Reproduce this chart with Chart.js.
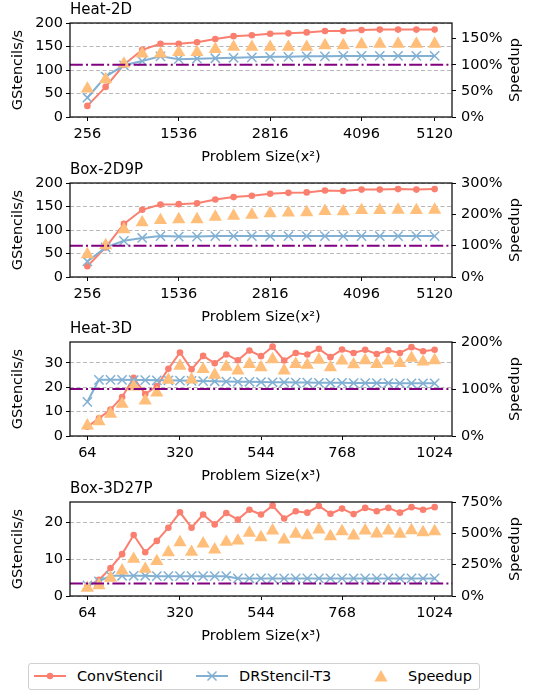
<!DOCTYPE html>
<html>
<head>
<meta charset="utf-8">
<script src="https://cdn.jsdelivr.net/npm/chart.js@4.4.1/dist/chart.umd.min.js"></script>
<style>
  body { margin: 0; background: #fff; }
  #page { position: relative; width: 549px; height: 691px; font-family: "DejaVu Sans", sans-serif; }
  .panel { position: absolute; left: 0; width: 549px; height: 166px; }
  #legend { position: absolute; left: 28px; top: 663px; width: 450px; height: 25px; border: 1px solid #d0d0d0; border-radius: 3px; background: #fff; font-size: 14.5px; color: #000; }
  #legend span { position: absolute; top: 3px; line-height: 19px; white-space: nowrap; }
  #legend svg { position: absolute; top: 2px; }
</style>
</head>
<body>
<div id="page">
  <canvas class="panel" id="heat2d" width="549" height="166" style="top:0px"></canvas>
  <canvas class="panel" id="box2d" width="549" height="166" style="top:160px"></canvas>
  <canvas class="panel" id="heat3d" width="549" height="166" style="top:319px"></canvas>
  <canvas class="panel" id="box3d" width="549" height="166" style="top:479px"></canvas>
  <div id="legend">
    <svg width="34" height="20" style="left:4px"><line x1="1" y1="10" x2="33" y2="10" stroke="#FA7F6F" stroke-width="2"/><circle cx="17" cy="10" r="3.2" fill="#FA7F6F"/></svg>
    <span style="left:48px">ConvStencil</span>
    <svg width="34" height="20" style="left:166px"><line x1="1" y1="10" x2="33" y2="10" stroke="#82B0D2" stroke-width="2"/><path d="M12.5 5.5 L21.5 14.5 M21.5 5.5 L12.5 14.5" stroke="#82B0D2" stroke-width="1.5"/></svg>
    <span style="left:210px">DRStencil-T3</span>
    <svg width="34" height="20" style="left:335px"><path d="M17 4 L23.5 15.5 L10.5 15.5 Z" fill="#FFBE7A"/></svg>
    <span style="left:379px">Speedup</span>
  </div>
</div>
<script>
"use strict";

// Problem sizes on the x axis
const sizes2D = [256, 512, 768, 1024, 1280, 1536, 1792, 2048, 2304, 2560,
                 2816, 3072, 3328, 3584, 3840, 4096, 4352, 4608, 4864, 5120];
const sizes3D = [64, 96, 128, 160, 192, 224, 256, 288, 320, 352, 384, 416, 448, 480, 512, 544,
                 576, 608, 640, 672, 704, 736, 768, 800, 832, 864, 896, 928, 960, 992, 1024];
const ticks2D = [256, 1536, 2816, 4096, 5120];
const ticks3D = [64, 320, 544, 768, 1024];

// Heat-2D
const heat2dConv = [23.6, 64, 111, 143, 156, 156, 159, 166, 172, 174, 177, 178, 180, 183, 183, 185, 186, 186, 186, 186];
const heat2dDr = [41, 86, 110, 119, 129, 123, 124, 125, 126, 127, 128, 128, 129, 129, 130, 130, 130, 130, 130, 130];
const heat2dSpeedup = [54, 72, 102, 121, 121, 124, 124, 130, 134, 134, 134, 134, 134, 137, 137, 139, 140, 140, 140, 140];

// Box-2D9P
const box2dConv = [23, 63, 113, 143, 154, 155, 157, 165, 170, 173, 177, 179, 180, 184, 183, 186, 186, 187, 186, 187];
const box2dDr = [33, 63, 77, 83, 87, 86, 86, 87, 87, 87, 87, 87, 87, 87, 87, 87, 87, 87, 87, 87];
const box2dSpeedup = [72, 101, 152, 174, 181, 184, 184, 192, 195, 198, 203, 205, 206, 210, 209, 213, 213, 214, 213, 214];

// Heat-3D
const heat3dConv = [3.8, 7.2, 10.8, 16.0, 23.8, 17.2, 20.5, 27.5, 34.2, 27.3, 32.8, 29.8, 33.4, 31.0, 35.0, 32.7,
                    36.6, 30.9, 34.0, 33.4, 35.7, 32.3, 35.4, 34.0, 35.3, 33.6, 35.1, 34.0, 36.4, 34.7, 35.3];
const heat3dDr = [14.0, 23.0, 23.0, 23.0, 22.9, 22.9, 22.8, 22.8, 22.7, 22.6, 22.5, 22.4, 22.3, 22.2, 22.2, 22.1,
                  22.0, 22.0, 21.9, 21.9, 21.8, 21.8, 21.8, 21.7, 21.7, 21.7, 21.7, 21.6, 21.6, 21.6, 21.6];
const heat3dSpeedup = [22, 31, 47, 68, 105, 75, 92, 119, 149, 120, 142, 130, 147, 139, 153, 146,
                       163, 139, 153, 151, 162, 146, 160, 152, 161, 153, 160, 155, 166, 158, 161];

// Box-3D27P
const box3dConv = [2.6, 4.4, 7.6, 11.4, 16.6, 11.9, 15.0, 18.6, 22.8, 18.6, 22.2, 19.5, 22.6, 20.8, 23.5, 22.2,
                   24.6, 21.1, 23.1, 22.7, 24.5, 22.4, 23.8, 22.3, 24.0, 23.1, 24.0, 22.7, 24.2, 23.5, 24.2];
const box3dDr = [2.9, 4.0, 5.5, 5.5, 5.5, 5.5, 5.4, 5.4, 5.4, 5.4, 5.4, 5.4, 5.4, 4.8, 4.8, 4.8,
                 4.8, 4.8, 4.8, 4.8, 4.8, 4.8, 4.8, 4.8, 4.8, 4.8, 4.8, 4.8, 4.8, 4.8, 4.8];
const box3dSpeedup = [64, 85, 144, 202, 295, 215, 277, 348, 428, 351, 418, 370, 431, 441, 503, 468,
                      521, 449, 495, 484, 529, 476, 516, 481, 521, 497, 521, 495, 524, 508, 516];

const RED = '#FA7F6F';
const BLUE = '#82B0D2';
const ORANGE = '#FFBE7A';
const FONT_SIZE = 14.5;

Chart.defaults.font.family = '"DejaVu Sans", sans-serif';
Chart.defaults.font.size = FONT_SIZE;
Chart.defaults.color = '#000';

const panels = [
    { id: 'heat2d', title: 'Heat-2D', sizes: sizes2D, conv: heat2dConv, dr: heat2dDr, speedup: heat2dSpeedup,
      xTicks: ticks2D, xLabel: 'Problem Size(x²)', yMax: 200, yTicks: [0, 50, 100, 150, 200], sMax: 180, sTicks: [0, 50, 100, 150] },
    { id: 'box2d', title: 'Box-2D9P', sizes: sizes2D, conv: box2dConv, dr: box2dDr, speedup: box2dSpeedup,
      xTicks: ticks2D, xLabel: 'Problem Size(x²)', yMax: 200, yTicks: [0, 50, 100, 150, 200], sMax: 300, sTicks: [0, 100, 200, 300] },
    { id: 'heat3d', title: 'Heat-3D', sizes: sizes3D, conv: heat3dConv, dr: heat3dDr, speedup: heat3dSpeedup,
      xTicks: ticks3D, xLabel: 'Problem Size(x³)', yMax: 38.5, yTicks: [0, 10, 20, 30], sMax: 200, sTicks: [0, 100, 200] },
    { id: 'box3d', title: 'Box-3D27P', sizes: sizes3D, conv: box3dConv, dr: box3dDr, speedup: box3dSpeedup,
      xTicks: ticks3D, xLabel: 'Problem Size(x³)', yMax: 25.6, yTicks: [0, 10, 20], sMax: 750, sTicks: [0, 250, 500, 750] }
];

// black box around the plot area, like matplotlib spines
const framePlugin = {
    id: 'frame',
    afterDatasetsDraw(chart) {
        const a = chart.chartArea;
        const ctx = chart.ctx;
        ctx.save();
        ctx.strokeStyle = '#000';
        ctx.lineWidth = 1.2;
        ctx.strokeRect(a.left, a.top, a.right - a.left, a.bottom - a.top);
        ctx.restore();
    }
};

// right axis label, reading bottom to top
const speedupLabelPlugin = {
    id: 'speedupLabel',
    afterDraw(chart) {
        const a = chart.chartArea;
        const ctx = chart.ctx;
        ctx.save();
        ctx.translate(a.right + 63, (a.top + a.bottom) / 2);
        ctx.rotate(-Math.PI / 2);
        ctx.font = FONT_SIZE + 'px "DejaVu Sans", sans-serif';
        ctx.fillStyle = '#000';
        ctx.textAlign = 'center';
        ctx.textBaseline = 'middle';
        ctx.fillText('Speedup', 0, 0);
        ctx.restore();
    }
};

function toPoints(xs, ys) {
    return xs.map(function (x, i) { return { x: x, y: ys[i] }; });
}

function fixedTicks(values) {
    return function (scale) {
        scale.ticks = values.map(function (v) { return { value: v }; });
    };
}

panels.forEach(function (p) {
    const first = p.sizes[0];
    const last = p.sizes[p.sizes.length - 1];
    const xMin = first - 0.05 * (last - first);
    const xMax = last + 0.05 * (last - first);

    new Chart(document.getElementById(p.id), {
        type: 'line',
        data: {
            datasets: [
                {
                    label: 'ConvStencil',
                    data: toPoints(p.sizes, p.conv),
                    yAxisID: 'y',
                    borderColor: RED,
                    backgroundColor: RED,
                    borderWidth: 2,
                    pointStyle: 'circle',
                    pointRadius: 3.3,
                    pointBorderWidth: 0,
                    order: 4
                },
                {
                    label: 'DRStencil-T3',
                    data: toPoints(p.sizes, p.dr),
                    yAxisID: 'y',
                    borderColor: BLUE,
                    backgroundColor: BLUE,
                    borderWidth: 2,
                    pointStyle: 'crossRot',
                    pointRadius: 6.5,
                    pointBorderWidth: 1.5,
                    order: 3
                },
                {
                    label: 'Speedup',
                    data: toPoints(p.sizes, p.speedup),
                    yAxisID: 'y1',
                    showLine: false,
                    borderColor: ORANGE,
                    backgroundColor: ORANGE,
                    pointStyle: 'triangle',
                    pointRadius: 7.6,
                    pointBorderWidth: 0,
                    order: 2
                },
                {
                    label: 'baseline',
                    data: [{ x: xMin, y: 100 }, { x: xMax, y: 100 }],
                    yAxisID: 'y1',
                    borderColor: 'purple',
                    borderWidth: 2,
                    borderDash: [12.8, 3.2, 2, 3.2],
                    pointRadius: 0,
                    order: 1
                }
            ]
        },
        options: {
            responsive: false,
            animation: false,
            layout: { padding: 0 },
            plugins: {
                legend: { display: false },
                tooltip: { enabled: false },
                title: {
                    display: true,
                    text: p.title,
                    align: 'start',
                    fullSize: false,
                    color: '#000',
                    font: { size: 15, weight: 'normal' },
                    padding: { top: 1.5, bottom: 3.5 }
                }
            },
            scales: {
                x: {
                    type: 'linear',
                    min: xMin,
                    max: xMax,
                    afterBuildTicks: fixedTicks(p.xTicks),
                    afterFit: function (s) { s.height = 49; },
                    grid: { drawOnChartArea: false, drawTicks: true, tickLength: 4, tickColor: '#000', tickWidth: 1 },
                    border: { display: false },
                    ticks: { padding: 5, maxRotation: 0, autoSkip: false, callback: function (v) { return String(v); } },
                    title: { display: true, text: p.xLabel, padding: 0 }
                },
                y: {
                    position: 'left',
                    min: 0,
                    max: p.yMax,
                    afterBuildTicks: fixedTicks(p.yTicks),
                    afterFit: function (s) { s.width = 70; },
                    grid: { color: '#b8b8b8', lineWidth: 1, tickColor: '#000', tickLength: 4, tickWidth: 1, tickBorderDash: [] },
                    border: { display: false, dash: [4, 2.5] },
                    ticks: { padding: 3, callback: function (v) { return String(v); } },
                    title: { display: true, text: 'GStencils/s', padding: { top: 10, bottom: 0 } }
                },
                y1: {
                    position: 'right',
                    min: 0,
                    max: p.sMax,
                    afterBuildTicks: fixedTicks(p.sTicks),
                    afterFit: function (s) { s.width = 97; },
                    grid: { drawOnChartArea: false, tickColor: '#000', tickLength: 4, tickWidth: 1 },
                    border: { display: false },
                    ticks: { padding: 5, callback: function (v) { return v + '%'; } }
                }
            }
        },
        plugins: [framePlugin, speedupLabelPlugin]
    });
});
</script>
</body>
</html>
